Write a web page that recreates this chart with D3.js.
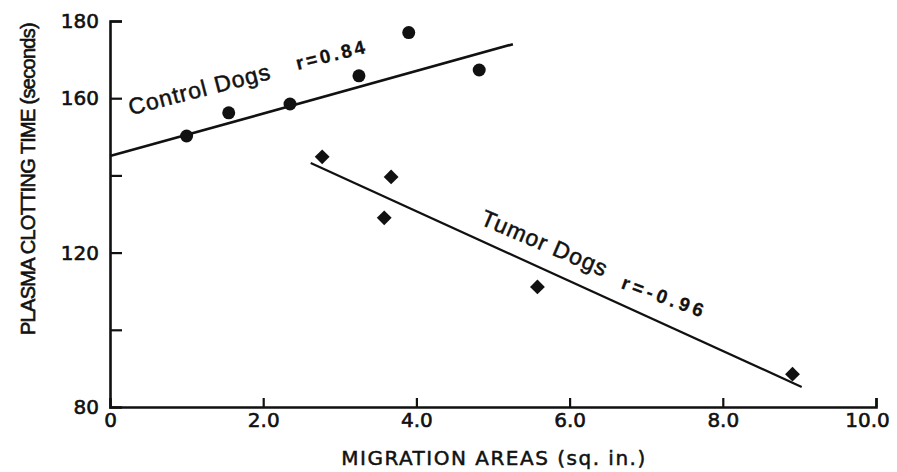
<!DOCTYPE html>
<html><head><meta charset="utf-8">
<script src="https://cdn.jsdelivr.net/npm/d3@7"></script>
<style>body{margin:0;background:#fff}svg{display:block}text{font-family:"Liberation Sans",Arial,sans-serif;fill:#111}</style>
</head><body><svg id="c" width="897" height="472"></svg>
<script>
const xTicks = [0, 2, 4, 6, 8, 10];
const xTickLabels = ["0", "2.0", "4.0", "6.0", "8.0", "10.0"];
const yTicks = [80, 100, 120, 140, 160, 180];
const yTickLabels = ["80", "", "120", "", "160", "180"];
const controlX = [1.0, 1.55, 2.35, 3.25, 3.9, 4.82];
const controlY = [150.2, 156.2, 158.5, 165.8, 177.0, 167.3];
const controlFitX = [0, 5.26];
const controlFitY = [145.0, 174.0];
const tumorX = [2.77, 3.67, 3.58, 5.58, 8.91];
const tumorY = [144.8, 139.6, 129.0, 111.1, 88.5];
const tumorFitX = [2.62, 9.03];
const tumorFitY = [143.2, 85.2];
const labels = ["Control Dogs", "r=0.84", "Tumor Dogs", "r=-0.96"];
const labelAt = [[0.27, 155.6], [2.45, 167.3], [4.82, 127.4], [6.66, 110.8]];
const labelRot = [-14.5, -14, 23, 20];
const labelBold = [false, true, false, true];

const svg = d3.select("#c");
const x = d3.scaleLinear().domain([0, 10]).range([110, 876]);
const y = d3.scaleLinear().domain([80, 180]).range([407, 21]);
const ink = "#111";
const wide = '"DejaVu Sans", Verdana, sans-serif';

function heavy(sel, w) { sel.attr("stroke", ink).attr("stroke-width", w).attr("paint-order", "stroke"); }

// axes
const gx = svg.append("g").attr("transform", `translate(0,${y(80)})`)
  .call(d3.axisBottom(x).tickValues(xTicks).tickSize(-9).tickPadding(12).tickFormat((d,i)=>xTickLabels[i]));
gx.selectAll("text").attr("dy", "0.71em").attr("y", 6).style("font-size", "20px")
  .attr("dx", (d, i) => i === xTicks.length - 1 ? -9 : 0);
const gy = svg.append("g").attr("transform", `translate(${x(0)},0)`)
  .call(d3.axisLeft(y).tickValues(yTicks).tickSize(-12).tickPadding(20).tickFormat((d,i)=>yTickLabels[i]));
gy.selectAll("text").style("font-size", "20px").attr("x", -11);
[gx, gy].forEach(g => {
  g.select(".domain").attr("stroke", ink).attr("stroke-width", 2.6);
  g.selectAll(".tick line").attr("stroke", ink).attr("stroke-width", 2.2);
  g.selectAll("text").attr("fill", ink).style("font-family", wide).call(heavy, 0.6);
});
gx.select(".tick line").remove();
gy.selectAll(".tick").filter(d => d === 80).select("line").remove();

// axis titles
svg.append("text").attr("x", 494).attr("y", 465).attr("text-anchor", "middle")
  .style("font-family", wide).style("font-size", "20px").style("letter-spacing", "1.5px").call(heavy, 0.5)
  .text("MIGRATION AREAS (sq. in.)");
svg.append("text").attr("transform", "translate(35,179) rotate(-90)").attr("text-anchor", "middle")
  .style("font-size", "20px").style("letter-spacing", "-0.7px").call(heavy, 0.6)
  .text("PLASMA CLOTTING TIME (seconds)");

// fit lines
const line = d3.line().x(d => x(d[0])).y(d => y(d[1]));
svg.append("path").datum(d3.zip(controlFitX, controlFitY)).attr("d", line)
  .attr("stroke", ink).attr("stroke-width", 2.6).attr("fill", "none");
svg.append("path").datum(d3.zip(tumorFitX, tumorFitY)).attr("d", line)
  .attr("stroke", ink).attr("stroke-width", 2.2).attr("fill", "none");

// points
svg.append("g").selectAll("circle").data(d3.zip(controlX, controlY)).join("circle")
  .attr("cx", d => x(d[0])).attr("cy", d => y(d[1])).attr("r", 6.5).attr("fill", ink);
const diamond = d3.symbol().type(d3.symbolSquare).size(110);
svg.append("g").selectAll("path").data(d3.zip(tumorX, tumorY)).join("path")
  .attr("d", diamond).attr("transform", d => `translate(${x(d[0])},${y(d[1])}) rotate(45)`).attr("fill", ink);

// labels
labels.forEach((t, i) => {
  svg.append("text")
    .attr("transform", `translate(${x(labelAt[i][0])},${y(labelAt[i][1])}) rotate(${labelRot[i]})`)
    .style("font-size", labelBold[i] ? "19px" : "23px")
    .style("font-weight", labelBold[i] ? "bold" : "normal")
    .style("letter-spacing", labelBold[i] ? (i === 3 ? "4px" : "3px") : "1px")
    .call(heavy, labelBold[i] ? 0.3 : 0.5)
    .text(t);
});
</script></body></html>
